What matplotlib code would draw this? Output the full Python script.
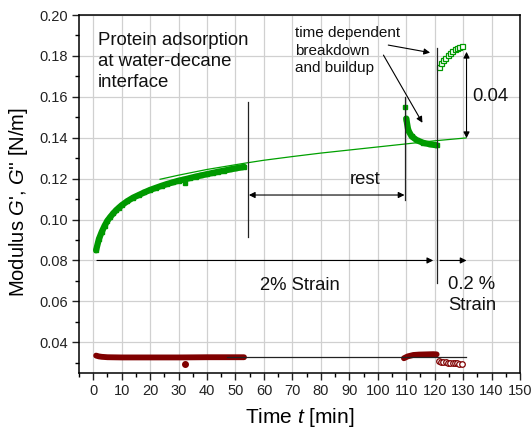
import matplotlib
matplotlib.use("Agg")
import matplotlib.pyplot as plt
from matplotlib.patches import Rectangle

plt.rcParams['font.family'] = ['Liberation Sans', 'DejaVu Sans']
plt.rcParams['mathtext.fontset'] = 'custom'
plt.rcParams['mathtext.rm'] = 'Liberation Sans'
plt.rcParams['mathtext.it'] = 'Liberation Sans:italic'

# ---- data ----
t_g1 = [1, 2, 3, 4, 5, 6, 7, 8, 9, 10, 12, 14, 16, 18, 20, 22, 24, 26, 28, 30,
        32, 34, 36, 38, 40, 42, 44, 46, 48, 50, 52, 53]
g1 = [0.085, 0.0905, 0.094, 0.097, 0.0995, 0.1013, 0.103, 0.1045, 0.1058, 0.107,
      0.109, 0.1107, 0.112, 0.1133, 0.1145, 0.1155, 0.1165, 0.1174, 0.1182, 0.119,
      0.1196, 0.1203, 0.121, 0.1216, 0.1222, 0.1228, 0.1234, 0.1239, 0.1245, 0.125,
      0.1255, 0.1258]
t_g1_out = [32.3]
g1_out = [0.1178]

t_g2_first = [109.6]
g2_first = [0.1548]
t_g2 = [110.0, 110.7, 111.9, 113.7, 116.0, 118.4, 120.7]
g2 = [0.1494, 0.1437, 0.1407, 0.1388, 0.1375, 0.1368, 0.1363]

t_g3 = [121.7, 122.3, 123.0, 123.8, 124.6, 125.4, 126.2, 127.0, 127.8, 128.6, 129.5]
g3 = [0.1747, 0.1765, 0.1780, 0.1792, 0.1805, 0.1815, 0.1825, 0.1832, 0.1838, 0.1844, 0.1850]

t_l1 = [1, 2, 3, 5, 10, 20, 30, 40, 50, 53]
l1 = [0.0335, 0.0331, 0.0329, 0.0327, 0.0326, 0.0326, 0.0326, 0.0327, 0.0327, 0.0327]
t_l1_out = [32.3]
l1_out = [0.0294]

t_l2 = [109.2, 110.5, 112.5, 114.5, 117.0, 119.5, 120.7]
l2 = [0.0322, 0.0331, 0.0338, 0.0340, 0.0341, 0.0342, 0.0341]

t_l3 = [121.5, 122.3, 123.1, 123.9, 124.7, 125.5, 126.3, 127.1, 127.9, 128.7, 129.5]
l3 = [0.0310, 0.0306, 0.0304, 0.0302, 0.0301, 0.0300, 0.0299, 0.0298, 0.0297, 0.0296, 0.0294]

t_fit = [23.5, 30, 40, 53, 60, 70, 80, 90, 100, 110, 120, 131]
fit = [0.1197, 0.1217, 0.1245, 0.1275, 0.1290, 0.1308, 0.1325, 0.1340, 0.1355, 0.1370, 0.1385, 0.1399]

t_base = [47, 131]
base = [0.0329, 0.0329]

xticks = list(range(0, 151, 10))
yticks = [0.04, 0.06, 0.08, 0.10, 0.12, 0.14, 0.16, 0.18, 0.20]

GREEN = '#009900'
RED = '#800000'

fig = plt.figure(figsize=(5.31, 4.30), dpi=100)
ax = fig.add_axes([0.1488, 0.1326, 0.8305, 0.8325])
ax.set_xlim(-5, 150)
ax.set_ylim(0.025, 0.20)

ax.set_xticks(xticks)
ax.set_xticks(list(range(-5, 151, 5)), minor=True)
ax.set_yticks(yticks)
ax.set_yticks([0.03 + 0.01 * i for i in range(17)], minor=True)
ax.set_yticklabels([f"{v:.2f}" for v in yticks])
ax.tick_params(axis='both', which='major', direction='out', length=5, width=1,
               labelsize=10.5, colors='#222222', pad=3)
ax.tick_params(axis='both', which='minor', direction='out', length=3, width=1)
for s in ax.spines.values():
    s.set_linewidth(1.1)
ax.grid(True, which='major', color='#d0d0d0', lw=0.9, zorder=0)
ax.set_axisbelow(True)

# white box behind title text
ax.add_patch(Rectangle((-5, 0.1595), 64, 0.0405, facecolor='white', edgecolor='none', zorder=0.5))

# G' data
ax.plot(t_g1, g1, '-', color=GREEN, lw=4.5, zorder=3, solid_capstyle='round')
ax.plot(t_g1, g1, 's', color=GREEN, ms=2.5, zorder=3)
ax.plot(t_g1_out, g1_out, 's', color=GREEN, ms=3.5, zorder=3)
ax.plot(t_g2_first, g2_first, 's', color=GREEN, ms=3.5, zorder=3)
ax.plot(t_g2, g2, '-', color=GREEN, lw=4.5, zorder=3, solid_capstyle='round')
ax.plot(t_g2, g2, 's', color=GREEN, ms=2.5, zorder=3)
ax.plot(t_g3, g3, 's', color=GREEN, ms=3.6, mfc='white', mew=0.9, zorder=3)

# G'' data
ax.plot(t_l1, l1, '-', color=RED, lw=4.2, zorder=3, solid_capstyle='round')
ax.plot(t_l1_out, l1_out, 'o', color=RED, ms=4, zorder=3)
ax.plot(t_l2, l2, '-', color=RED, lw=4.2, zorder=3, solid_capstyle='round')
ax.plot(t_l3, l3, 'o', color=RED, ms=4, mfc='white', mew=0.9, zorder=3)

# fit lines
ax.plot(t_fit, fit, '-', color='#00a000', lw=0.9, zorder=4)
ax.plot(t_base, base, '-', color='#222222', lw=0.9, zorder=4)

# vertical lines
ax.plot([54.5, 54.5], [0.0915, 0.1575], color='#222222', lw=0.9, zorder=4)
ax.plot([109.6, 109.6], [0.1094, 0.160], color='#222222', lw=0.9, zorder=4)
ax.plot([121.0, 121.0], [0.0689, 0.1838], color='#222222', lw=0.9, zorder=4)

arrow = dict(arrowstyle='-|>', lw=0.8, color='k', mutation_scale=9, shrinkA=0, shrinkB=0)
darrow = dict(arrowstyle='<|-|>', lw=0.8, color='k', mutation_scale=9, shrinkA=0, shrinkB=0)

ax.annotate('', xy=(109.4, 0.112), xytext=(54.7, 0.112), arrowprops=darrow, zorder=5)
ax.annotate('', xy=(119.5, 0.080), xytext=(1.3, 0.080), arrowprops=arrow, zorder=5)
ax.annotate('', xy=(131.2, 0.080), xytext=(121.9, 0.080), arrowprops=arrow, zorder=5)
ax.annotate('', xy=(131.2, 0.1820), xytext=(131.2, 0.1398), arrowprops=darrow, zorder=5)
ax.annotate('', xy=(118.4, 0.1816), xytext=(103.7, 0.1853), arrowprops=arrow, zorder=5)
ax.annotate('', xy=(115.7, 0.1473), xytext=(102.0, 0.1804), arrowprops=arrow, zorder=5)

# texts
ax.text(1.5, 0.1918, "Protein adsorption\nat water-decane\ninterface", fontsize=13.4,
        va='top', ha='left', linespacing=1.32, color='#111111', zorder=6)
ax.text(71, 0.1945, "time dependent\nbreakdown\nand buildup", fontsize=11,
        va='top', ha='left', linespacing=1.3, color='#111111', zorder=6)
ax.text(95.4, 0.1194, "rest", fontsize=13.3, ha='center', va='center', color='#111111')
ax.text(139.6, 0.1604, "0.04", fontsize=13.3, ha='center', va='center', color='#111111')
ax.text(72.7, 0.0678, "2% Strain", fontsize=13.3, ha='center', va='center', color='#111111')
ax.text(124.8, 0.0633, "0.2 %\nStrain", fontsize=13.3, ha='left', va='center',
        linespacing=1.3, color='#111111')

ax.set_xlabel(r"Time $t$ [min]", fontsize=15, labelpad=6)
ax.set_ylabel(r"Modulus $G$', $G$'' [N/m]", fontsize=14.5)
ax.yaxis.set_label_coords(-0.112, 0.478)

fig.savefig("out.png", dpi=100)
